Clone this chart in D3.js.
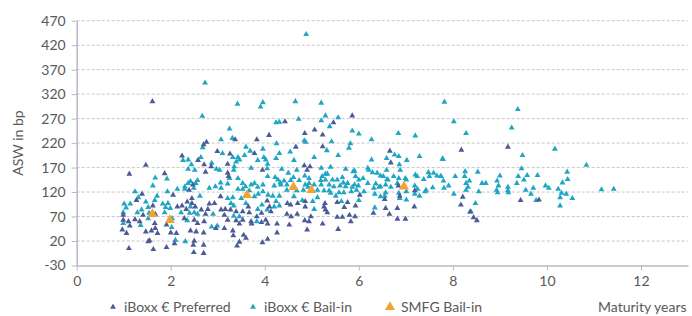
<!DOCTYPE html>
<html>
<head>
<meta charset="utf-8">
<script src="https://cdn.jsdelivr.net/npm/d3@7"></script>
<style>
  body { margin: 0; background: #fff; }
  #container { width: 692px; height: 316px; }
  text { font-family: Lato, "Open Sans", sans-serif; fill: #595959; }
</style>
</head>
<body>
<div id="container"></div>
<script>
// [maturity years, ASW bp]
const preferred = [
  [1.61,305],[1.47,175],[1.12,157],[1.87,158],[1.39,116],[2.05,114],[1.27,103],[1.62,92],[1.41,73],[1.67,75],
  [1.24,64],[0.99,63],[1.10,60],[1.34,60],[1.66,56],[1.13,51],[1.67,46],[0.97,43],[1.91,53],[1.06,36],
  [1.47,39],[1.59,41],[1.72,36],[2.00,37],[1.52,19],[1.55,21],[2.08,15],[1.11,5],[1.63,3],[1.91,7],[0.99,73],
  [3.37,227],[3.83,227],[2.76,222],[2.70,217],[2.99,203],[3.26,198],[2.24,194],[3.78,199],[2.58,185],[2.71,176],
  [2.86,172],[3.21,177],[2.74,161],[3.21,159],[3.23,152],[3.95,165],[2.47,135],[2.39,124],[2.45,107],[3.06,111],
  [2.35,100],[2.45,97],[2.82,96],[2.14,90],[2.24,92],[2.52,90],[2.93,97],[3.65,90],[2.33,85],[2.65,84],
  [2.79,85],[3.07,84],[3.16,85],[3.27,84],[3.39,80],[3.53,80],[3.67,78],[2.74,75],[3.14,73],[3.83,70],
  [3.93,77],[2.29,66],[2.50,63],[2.71,60],[2.57,56],[3.21,63],[3.39,62],[3.53,63],[3.71,60],[3.93,58],
  [2.96,46],[3.14,46],[3.46,55],[3.72,55],[2.42,41],[2.54,39],[2.70,37],[3.32,41],[3.33,31],[3.55,32],
  [3.60,26],[2.50,20],[2.70,12],[3.41,10],[3.46,18],[3.95,17],[2.12,36],[2.48,12],[2.49,-3],[2.70,-5],
  [5.86,276],[4.43,264],[5.46,262],[5.06,247],[4.85,240],[5.23,237],[4.09,236],[5.23,213],[4.66,212],[4.84,174],
  [4.96,172],[4.90,165],[4.05,102],[4.10,90],[4.48,97],[4.55,94],[4.70,97],[4.86,101],[5.28,97],[4.13,80],
  [4.47,75],[4.69,75],[4.86,90],[5.26,90],[5.29,84],[5.33,78],[5.54,99],[5.76,99],[4.98,70],[4.85,62],
  [4.56,70],[4.02,63],[4.06,55],[4.26,55],[4.52,53],[4.94,60],[5.54,69],[5.65,69],[5.69,89],[5.80,73],
  [5.83,60],[5.23,55],[5.56,44],[4.90,43],[4.26,37],[4.06,24],
  [6.66,204],[6.68,180],[6.84,133],[6.02,114],[6.55,105],[6.87,112],[7.19,123],[5.93,92],[7.18,90],[6.31,77],
  [6.57,87],[6.65,75],[6.82,87],[6.82,65],[6.99,65],[5.92,70],
  [8.18,206],[9.17,212],[8.21,110],[8.17,94],[8.38,80],[8.44,68],[8.51,62],[9.44,103],[9.83,104]
];

const bailIn = [
  [1.67,149],[1.92,147],[1.62,133],[1.24,121],[1.93,121],[1.31,109],[1.71,112],[1.01,96],[1.14,96],[1.47,100],
  [1.66,103],[1.83,96],[1.94,97],[1.05,88],[1.38,84],[1.52,89],[1.89,89],[1.99,87],[0.99,78],[1.29,78],
  [1.54,77],[1.87,78],[1.52,66],[2.03,66],[0.99,56],[1.36,52],[2.02,48],
  [2.73,343],[3.42,300],[3.96,303],[3.91,294],[2.67,275],[3.25,249],[3.07,227],[3.31,230],[2.68,211],[3.60,212],
  [3.69,204],[3.96,208],[3.10,199],[2.26,185],[2.37,186],[2.64,191],[3.32,191],[3.43,191],[3.57,195],[3.85,185],
  [3.98,191],[3.39,182],[3.46,186],[2.44,176],[2.87,179],[3.35,172],[3.71,169],[2.37,167],[2.51,165],[2.97,167],
  [3.04,165],[3.34,165],[3.25,148],[3.43,148],[2.57,144],[2.37,138],[2.42,142],[2.30,131],[2.53,138],[3.06,139],
  [3.21,137],[3.53,138],[3.59,131],[3.71,135],[3.78,138],[3.85,130],[3.96,135],[2.14,126],[2.30,126],[2.49,128],
  [2.82,128],[2.95,131],[3.07,128],[3.43,126],[3.53,126],[3.67,123],[3.86,116],[3.96,121],[2.62,112],[3.21,107],
  [3.32,109],[3.50,107],[3.78,111],[2.42,90],[3.28,97],[3.34,92],[3.60,97],[3.85,85],[3.94,94],[2.22,78],
  [2.40,77],[2.50,78],[2.57,75],[2.90,75],[3.34,71],[3.46,70],[2.35,62],[3.83,60],[2.87,49],[2.99,51],
  [2.10,22],[2.31,19],
  [4.88,442],[4.65,305],[5.20,302],[5.29,276],[5.56,272],[4.72,269],[4.24,262],[4.31,263],[5.20,266],[5.38,254],
  [5.86,245],[4.84,225],[4.87,222],[5.42,223],[5.82,219],[4.25,219],[5.79,210],[5.32,205],[4.31,199],[4.54,202],
  [5.05,191],[5.56,195],[4.24,189],[4.62,185],[4.02,186],[4.06,177],[4.05,168],[4.36,167],[4.68,165],[5.20,169],
  [5.40,171],[5.72,167],[5.88,162],[4.50,159],[5.29,157],[5.33,157],[4.06,152],[4.22,150],[4.61,150],[4.85,153],
  [4.94,148],[5.22,152],[5.65,150],[4.28,145],[4.33,139],[4.41,143],[4.55,144],[4.73,144],[5.19,144],[5.29,145],
  [5.44,145],[5.54,145],[5.67,139],[5.76,138],[4.20,133],[4.34,135],[4.47,135],[4.86,135],[4.94,138],[5.05,135],
  [5.20,135],[5.37,135],[5.47,131],[5.60,133],[5.72,131],[5.86,130],[4.47,124],[4.68,123],[4.82,124],[4.92,130],
  [5.12,124],[5.26,123],[5.37,123],[5.40,118],[5.51,112],[5.68,119],[4.07,114],[4.17,112],[4.31,112],[4.62,111],
  [5.12,109],[5.58,119],[5.84,121],[4.24,101],[4.31,92],[4.20,90],[4.80,103],[5.02,101],[5.05,85],[5.63,101],
  [4.05,84],
  [6.00,239],[6.27,227],[6.84,240],[7.20,235],[6.76,196],[6.85,193],[6.59,189],[6.27,186],[7.02,185],[7.29,193],
  [7.79,187],[6.86,176],[6.19,169],[6.21,165],[5.91,163],[6.59,165],[6.88,165],[6.29,160],[6.39,159],[6.46,153],
  [6.52,152],[6.74,152],[6.85,148],[6.99,148],[7.20,155],[7.24,152],[7.48,160],[7.59,159],[7.66,153],[7.74,152],
  [7.50,152],[7.38,146],[5.93,152],[6.00,145],[6.09,148],[6.60,146],[6.19,138],[6.36,137],[6.46,131],[6.57,135],
  [6.62,145],[6.82,138],[7.01,145],[5.91,135],[5.99,133],[6.32,128],[6.43,130],[6.68,130],[7.19,133],[7.25,126],
  [7.57,129],[7.43,124],[7.81,128],[5.95,124],[6.11,121],[6.57,119],[7.01,121],[7.41,121],[6.00,103],[6.34,116],
  [6.46,111],[6.55,112],[6.85,118],[6.87,107],[7.01,104],[7.19,116],[7.29,112],[6.34,88],
  [7.82,304],[9.38,289],[8.02,264],[8.28,240],[9.25,251],[10.17,208],[7.78,188],[9.48,195],[9.46,168],[10.84,175],
  [7.75,152],[7.80,143],[8.05,152],[8.26,162],[8.25,152],[8.35,143],[8.53,161],[9.00,153],[8.94,143],[9.39,152],
  [9.58,154],[9.80,154],[10.43,161],[10.44,146],[8.28,138],[8.62,138],[8.70,138],[8.97,133],[9.36,138],[9.51,145],
  [7.91,133],[8.32,130],[8.28,124],[8.93,124],[9.17,130],[9.17,123],[9.71,128],[9.97,133],[10.04,128],[10.33,139],
  [10.24,126],[8.02,116],[8.55,121],[8.95,119],[9.18,119],[9.55,124],[9.66,116],[10.31,118],[10.41,116],[10.28,109],
  [10.54,107],[9.77,103],[8.48,97],[10.28,92],[8.36,79],[11.16,125],[11.42,126]
];

const smfg = [[1.61,75],[1.98,63],[3.62,114],[4.61,130],[4.99,124],[6.96,131]];

const xTicks = [0, 2, 4, 6, 8, 10, 12];
const yTicks = [-30, 20, 70, 120, 170, 220, 270, 320, 370, 420, 470];

const seriesNames = ["iBoxx € Preferred", "iBoxx € Bail-in", "SMFG Bail-in"];
const seriesColors = ["#4b5b97", "#1ea6c3", "#f0a232"];

const w = 692, h = 316;

const x = d3.scaleLinear().domain([0, 13]).range([76.7, 688]);
const y = d3.scaleLinear().domain([-30, 470]).range([265.5, 20.7]);

const svg = d3.select("#container")
              .append("svg")
              .attr("width", w)
              .attr("height", h);

// dashed gridlines
svg.append("g")
   .selectAll("line")
   .data(yTicks.slice(1))
   .enter()
   .append("line")
   .attr("x1", x(0))
   .attr("x2", x(13))
   .attr("y1", d => y(d))
   .attr("y2", d => y(d))
   .attr("stroke", "#c6c6c6")
   .attr("stroke-width", 1)
   .attr("stroke-dasharray", "3,2");

const xAxis = d3.axisBottom(x).tickValues(xTicks).tickSize(5).tickSizeOuter(0).tickPadding(6)
                .tickFormat(d => String(d));
const yAxis = d3.axisLeft(y).tickValues(yTicks).tickSize(5).tickSizeOuter(0).tickPadding(6)
                .tickFormat(d => String(d));

const gx = svg.append("g")
   .attr("id", "x-axis")
   .attr("transform", "translate(0," + y(-30) + ")")
   .call(xAxis);

const gy = svg.append("g")
   .attr("id", "y-axis")
   .attr("transform", "translate(" + x(0) + ",0)")
   .call(yAxis);

[gx, gy].forEach(g => {
  g.select(".domain").attr("stroke", "#b8b8c4").attr("stroke-width", 1.5);
  g.selectAll(".tick line").attr("stroke", "#b8b8c4");
  g.selectAll(".tick text").attr("font-size", 14).attr("font-family", "Lato, sans-serif").attr("fill", "#595959");
});

svg.append("text")
   .attr("transform", "translate(23," + 143 + ") rotate(-90)")
   .attr("text-anchor", "middle")
   .attr("font-size", 14)
   .text("ASW in bp");

const small = d3.symbol().type(d3.symbolTriangle).size(15);
const big = d3.symbol().type(d3.symbolTriangle).size(44);

svg.append("g")
   .selectAll("path")
   .data(bailIn)
   .enter()
   .append("path")
   .attr("d", small)
   .attr("transform", d => "translate(" + x(d[0]) + "," + y(d[1]) + ")")
   .attr("fill", seriesColors[1]);

svg.append("g")
   .selectAll("path")
   .data(preferred)
   .enter()
   .append("path")
   .attr("d", small)
   .attr("transform", d => "translate(" + x(d[0]) + "," + y(d[1]) + ")")
   .attr("fill", seriesColors[0]);

svg.append("g")
   .selectAll("path")
   .data(smfg)
   .enter()
   .append("path")
   .attr("d", big)
   .attr("transform", d => "translate(" + x(d[0]) + "," + y(d[1]) + ")")
   .attr("fill", seriesColors[2]);

// legend
const legendX = [113, 253, 390];
const legend = svg.append("g");
seriesNames.forEach((name, i) => {
  legend.append("path")
        .attr("d", i == 2 ? big : small)
        .attr("transform", "translate(" + legendX[i] + ",307)")
        .attr("fill", seriesColors[i]);
  legend.append("text")
        .attr("x", legendX[i] + 11)
        .attr("y", 312)
        .attr("font-size", 14)
        .text(name);
});

svg.append("text")
   .attr("x", 598)
   .attr("y", 312)
   .attr("font-size", 14)
   .text("Maturity years");
</script>
</body>
</html>
